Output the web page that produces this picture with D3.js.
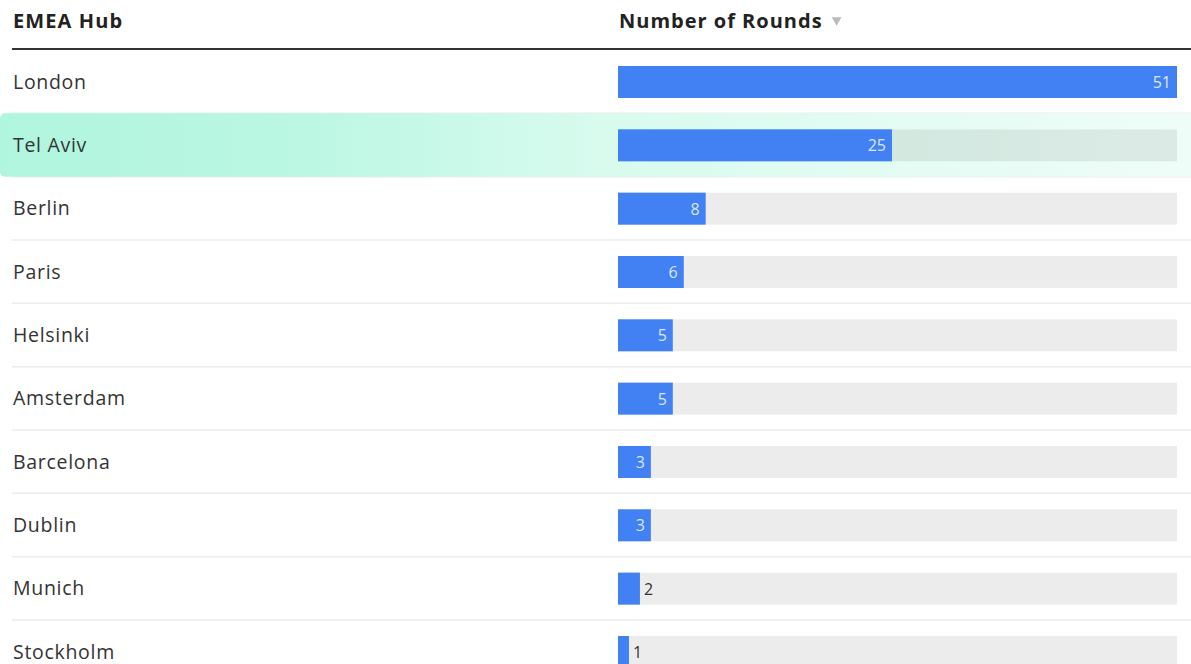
<!DOCTYPE html>
<html>
<head>
<meta charset="utf-8">
<script src="https://cdn.jsdelivr.net/npm/d3@7"></script>
<style>
  html, body { margin: 0; padding: 0; background: #fff; overflow: hidden; }
  svg { display: block; font-family: "Open Sans", "Noto Sans", sans-serif; }
</style>
</head>
<body>
<svg id="chart" width="1191" height="664"></svg>
<script>
// Funding rounds per EMEA hub
const hubs = ["London", "Tel Aviv", "Berlin", "Paris", "Helsinki", "Amsterdam", "Barcelona", "Dublin", "Munich", "Stockholm"];
const rounds = [51, 25, 8, 6, 5, 5, 3, 3, 2, 1];
const headers = ["EMEA Hub", "Number of Rounds"];
const highlighted = ["Tel Aviv"];

const W = 1191, H = 664;
const svg = d3.select("#chart");

const rowTop = 50, rowH = 63.33;
const y = d3.scaleBand().domain(hubs).range([rowTop, rowTop + rowH * hubs.length]).paddingInner(0).paddingOuter(0);
const x = d3.scaleLinear().domain([0, d3.max(rounds)]).range([618, 1177]);

const data = hubs.map((h, i) => ({ hub: h, value: rounds[i] }));

// highlight gradient
const defs = svg.append("defs");
const grad = defs.append("linearGradient").attr("id", "hl").attr("x1", "0%").attr("x2", "100%");
grad.append("stop").attr("offset", "0%").attr("stop-color", "#b0f5de");
grad.append("stop").attr("offset", "25%").attr("stop-color", "#bbf7e3");
grad.append("stop").attr("offset", "50%").attr("stop-color", "#d8fbee");
grad.append("stop").attr("offset", "100%").attr("stop-color", "#effdf8");

// row separators
svg.append("g").selectAll("line")
  .data(hubs.slice(0, -1))
  .join("line")
  .attr("x1", 12).attr("x2", W)
  .attr("y1", d => y(d) + y.bandwidth())
  .attr("y2", d => y(d) + y.bandwidth())
  .attr("stroke", "#ececec").attr("stroke-width", 1.5);

// highlighted rows
svg.append("g").selectAll("rect")
  .data(data.filter(d => highlighted.includes(d.hub)))
  .join("rect")
  .attr("x", 0).attr("width", W + 6)
  .attr("y", d => y(d.hub)).attr("height", y.bandwidth())
  .attr("rx", 5)
  .attr("fill", "url(#hl)");

// header
const header = svg.append("g");
header.append("text").attr("x", 13).attr("y", 28)
  .attr("font-size", 20).attr("font-weight", 700).attr("fill", "#222")
  .attr("letter-spacing", 1.1)
  .text(headers[0]);
const h2 = header.append("text").attr("x", 619).attr("y", 28)
  .attr("font-size", 20).attr("font-weight", 700).attr("fill", "#222")
  .attr("letter-spacing", 1.0)
  .text(headers[1]);
const h2w = h2.node().getComputedTextLength();
header.append("path")
  .attr("d", d3.symbol().type(d3.symbolTriangle).size(42))
  .attr("transform", `translate(${619 + h2w + 14},20) rotate(180)`)
  .attr("fill", "#bbb");
header.append("line").attr("x1", 12).attr("x2", W).attr("y1", 49).attr("y2", 49)
  .attr("stroke", "#333").attr("stroke-width", 2.2);

// hub names
svg.append("g").selectAll("text")
  .data(data)
  .join("text")
  .attr("x", 13)
  .attr("y", d => y(d.hub) + y.bandwidth() / 2 + 7)
  .attr("font-size", 19.5).attr("fill", "#333")
  .attr("letter-spacing", 0.7)
  .text(d => d.hub);

// bar tracks and bars
const barInset = 16, barH = 32;
const bars = svg.append("g");
bars.selectAll("rect.track")
  .data(data)
  .join("rect").attr("class", "track")
  .attr("x", x(0)).attr("width", x.range()[1] - x(0))
  .attr("y", d => y(d.hub) + barInset).attr("height", barH)
  .attr("fill", "rgba(0,0,0,0.075)");
bars.selectAll("rect.bar")
  .data(data)
  .join("rect").attr("class", "bar")
  .attr("x", x(0)).attr("width", d => x(d.value) - x(0))
  .attr("y", d => y(d.hub) + barInset).attr("height", barH)
  .attr("fill", "#4181f3");

// value labels
bars.selectAll("text")
  .data(data)
  .join("text")
  .attr("x", d => d.value >= 3 ? x(d.value) - 6 : x(d.value) + 4)
  .attr("y", d => y(d.hub) + barInset + barH / 2 + 6)
  .attr("text-anchor", d => d.value >= 3 ? "end" : "start")
  .attr("font-size", 16)
  .attr("fill", d => d.value >= 3 ? "#dce7fd" : "#333")
  .text(d => d.value);
</script>
</body>
</html>
